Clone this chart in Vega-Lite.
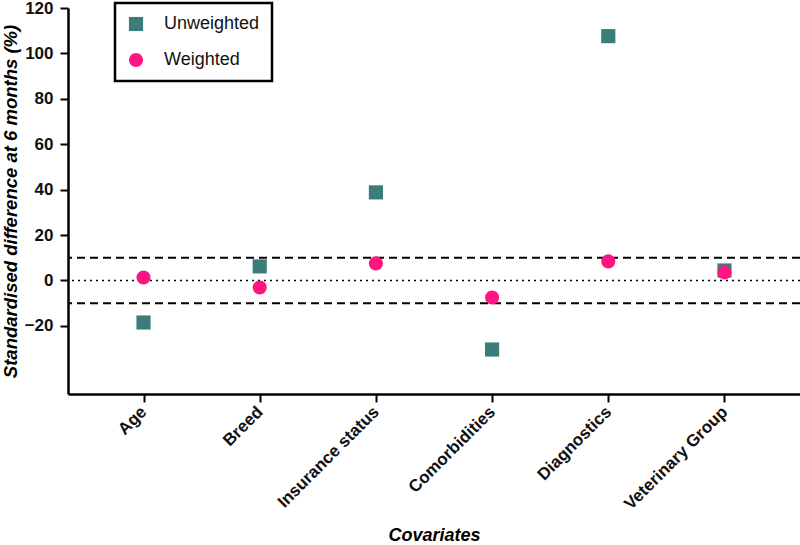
{
  "$schema": "https://vega.github.io/schema/vega-lite/v6.json",
  "width": 732,
  "height": 386,
  "autosize": {"type": "none"},
  "padding": {"left": 68, "top": 8, "right": 0, "bottom": 151},
  "config": {
    "view": {"stroke": null},
    "font": "Liberation Sans",
    "axis": {
      "domainColor": "black",
      "domainWidth": 2.5,
      "tickColor": "black",
      "tickWidth": 2,
      "tickSize": 8,
      "grid": false,
      "labelColor": "#111",
      "labelFontWeight": "bold",
      "titleColor": "black",
      "titleFontStyle": "italic",
      "titleFontWeight": "bold"
    },
    "legend": {
      "orient": "none",
      "legendX": 47,
      "legendY": -5,
      "strokeColor": "black",
      "strokeWidth": 2.5,
      "padding": 12,
      "labelFontSize": 18,
      "labelColor": "#111",
      "symbolSize": 200,
      "symbolStrokeWidth": 0,
      "symbolOpacity": 1,
      "rowPadding": 18,
      "labelOffset": 19,
      "title": null
    }
  },
  "datasets": {
    "balance": [
      {"covariate": "Age", "series": "Unweighted", "value": -18.5},
      {"covariate": "Age", "series": "Weighted", "value": 1.3},
      {"covariate": "Breed", "series": "Unweighted", "value": 6.2},
      {"covariate": "Breed", "series": "Weighted", "value": -3.1},
      {"covariate": "Insurance status", "series": "Unweighted", "value": 38.8},
      {"covariate": "Insurance status", "series": "Weighted", "value": 7.5},
      {"covariate": "Comorbidities", "series": "Unweighted", "value": -30.4},
      {"covariate": "Comorbidities", "series": "Weighted", "value": -7.5},
      {"covariate": "Diagnostics", "series": "Unweighted", "value": 107.6},
      {"covariate": "Diagnostics", "series": "Weighted", "value": 8.4},
      {"covariate": "Veterinary Group", "series": "Unweighted", "value": 4.4},
      {"covariate": "Veterinary Group", "series": "Weighted", "value": 3.5}
    ],
    "limits": [{"value": 10}, {"value": -10}],
    "zero": [{"value": 0}]
  },
  "encoding": {
    "y": {
      "field": "value",
      "type": "quantitative",
      "scale": {"domain": [-50, 120], "nice": false, "zero": false},
      "axis": {
        "title": "Standardised difference at 6 months (%)",
        "titleFontSize": 18.5,
        "titlePadding": 4,
        "values": [-20, 0, 20, 40, 60, 80, 100, 120],
        "labelFontSize": 17,
        "labelPadding": 7
      }
    }
  },
  "layer": [
    {
      "data": {"name": "limits"},
      "mark": {"type": "rule", "strokeDash": [8, 5], "strokeWidth": 2, "color": "black"},
      "encoding": {}
    },
    {
      "data": {"name": "zero"},
      "mark": {"type": "rule", "strokeDash": [2, 4], "strokeWidth": 1.5, "color": "black"},
      "encoding": {}
    },
    {
      "data": {"name": "balance"},
      "mark": {"type": "point", "filled": true, "opacity": 1, "size": 200},
      "encoding": {
        "x": {
          "field": "covariate",
          "type": "nominal",
          "sort": null,
          "scale": {"type": "point", "padding": 0.65},
          "axis": {
            "title": "Covariates",
            "titleFontSize": 18,
            "titlePadding": 14,
            "labelAngle": -45,
            "labelAlign": "right",
            "labelBaseline": "middle",
            "labelFontSize": 17,
            "labelPadding": 7
          }
        },
        "color": {
          "field": "series",
          "type": "nominal",
          "scale": {"domain": ["Unweighted", "Weighted"], "range": ["#3b7d7b", "#ff1480"]}
        },
        "shape": {
          "field": "series",
          "type": "nominal",
          "scale": {"domain": ["Unweighted", "Weighted"], "range": ["square", "circle"]}
        }
      }
    }
  ]
}
